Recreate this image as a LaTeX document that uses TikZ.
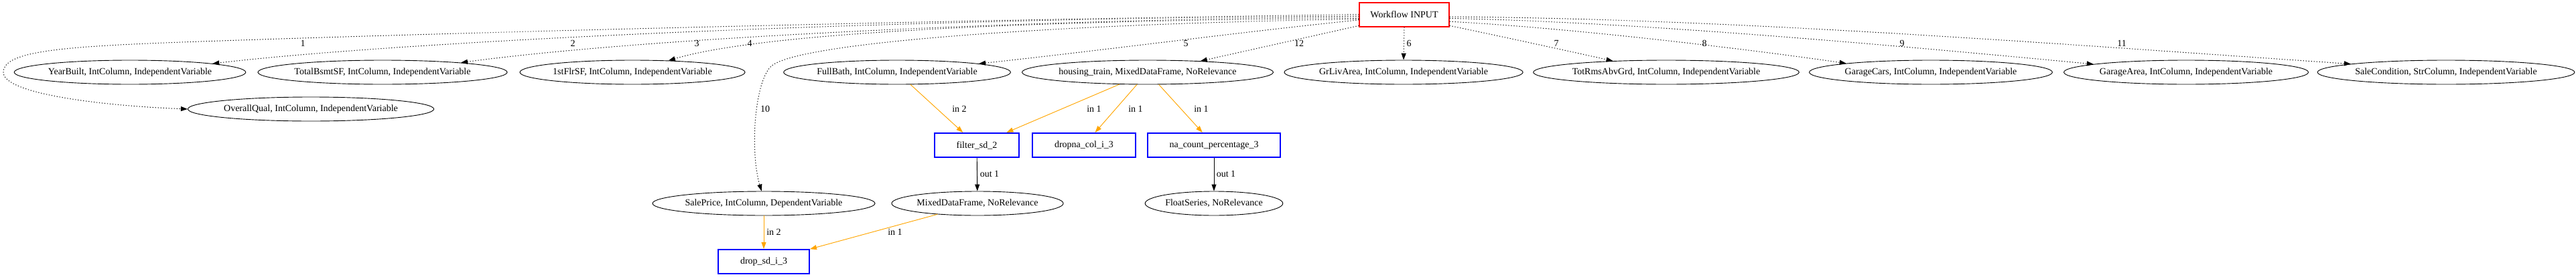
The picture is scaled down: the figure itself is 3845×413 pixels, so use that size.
\documentclass[tikz,border=0pt]{standalone}
\usepackage{fontspec}
\setmainfont{Liberation Serif}
\usetikzlibrary{shapes.geometric}
\usetikzlibrary{arrows.meta}
\definecolor{inorange}{RGB}{255,165,0}
\tikzset{x=1pt, y=-1pt,
>={Triangle[length=10pt,width=7pt]},
every node/.style={font=\fontsize{14}{16}\selectfont},
col/.style={
draw, ellipse,
line width=0.9pt,
inner xsep=0pt, inner ysep=0pt,
minimum height=36pt},
task/.style={
draw=blue,
line width=2pt,
inner xsep=33pt,
minimum height=36pt},
wf/.style={
draw=red,
line width=2pt,
inner xsep=16pt,
minimum height=36pt},
feed/.style={->, line width=1pt, dash pattern=on 1.2pt off 2.8pt},
inedge/.style={->, line width=0.9pt, draw=inorange, fill=inorange},
outedge/.style={->, line width=0.9pt},
lbl/.style={inner sep=1pt, text=black}}

\begin{document}
\begin{tikzpicture}
\useasboundingbox (0,0) rectangle (3845,413);
\node[wf] (input) at (2096,21.5) {Workflow INPUT};
\node[col] (yb) at (194,108) {YearBuilt, IntColumn, IndependentVariable};
\node[col] (tb) at (571,108) {TotalBsmtSF, IntColumn, IndependentVariable};
\node[col] (fs) at (944,108) {1stFlrSF, IntColumn, IndependentVariable};
\node[col] (fb) at (1339,108) {FullBath, IntColumn, IndependentVariable};
\node[col] (ht) at (1713,108) {housing\_train, MixedDataFrame, NoRelevance};
\node[col] (gl) at (2095,108) {GrLivArea, IntColumn, IndependentVariable};
\node[col] (tr) at (2487,108) {TotRmsAbvGrd, IntColumn, IndependentVariable};
\node[col] (gc) at (2882,108) {GarageCars, IntColumn, IndependentVariable};
\node[col] (ga) at (3263,108) {GarageArea, IntColumn, IndependentVariable};
\node[col] (sc) at (3651,108) {SaleCondition, StrColumn, IndependentVariable};
\node[col] (oq) at (464,163) {OverallQual, IntColumn, IndependentVariable};
\node[task] (filter) at (1458,217) {filter\_sd\_2};
\node[task] (dropna) at (1618,217) {dropna\_col\_i\_3};
\node[task] (nacount) at (1812,217) {na\_count\_percentage\_3};
\node[col] (sp) at (1140,304) {SalePrice, IntColumn, DependentVariable};
\node[col] (mdf) at (1459,304) {MixedDataFrame, NoRelevance};
\node[col] (fls) at (1812,304) {FloatSeries, NoRelevance};
\node[task] (drop) at (1140,391) {drop\_sd\_i\_3};
\draw[feed] (input.180) .. controls (1400,30) and (700,48) .. (300,62)
  .. controls (100,69) and (5,75) .. (5,108)
  .. controls (5,140) and (150,158) .. (oq.west) node[lbl] at (452,65) {1};
\draw[feed] (input.182) .. controls (1300,28) and (600,62) .. (yb.6) node[lbl] at (855,65) {2};
\draw[feed] (input.183.5) .. controls (1500,30) and (950,58) .. (tb.7) node[lbl] at (1040,65) {3};
\draw[feed] (input.185) .. controls (1600,30) and (1150,45) .. (fs.18) node[lbl] at (1119,65) {4};
\draw[feed] (input.187.5) .. controls (1850,48) and (1640,76) .. (fb.6) node[lbl] at (1770,65) {5};
\draw[feed] (input.194) -- (ht.12) node[lbl] at (1939,65) {12};
\draw[feed] (input.south) -- (gl.north) node[lbl] at (2103,65) {6};
\draw[feed] (input.346) .. controls (2220,50) and (2340,76) .. (tr.168) node[lbl] at (2323,65) {7};
\draw[feed] (input.351) .. controls (2350,42) and (2620,75) .. (gc.174) node[lbl] at (2544,65) {8};
\draw[feed] (input.355) .. controls (2450,33) and (2850,70) .. (ga.175) node[lbl] at (2839,65) {9};
\draw[feed] (input.186) .. controls (1600,35) and (1185,62) .. (1150,100)
  .. controls (1125,127) and (1120,230) .. (sp.100) node[lbl] at (1142,163) {10};
\draw[feed] (input.357) .. controls (2600,28) and (3100,68) .. (sc.175) node[lbl] at (3167,65) {11};
\draw[inedge] (fb) -- (filter) node[lbl] at (1432,163) {in 2};
\draw[inedge] (ht) -- (filter) node[lbl] at (1633,163) {in 1};
\draw[inedge] (ht) -- (dropna) node[lbl] at (1695,163) {in 1};
\draw[inedge] (ht) -- (nacount) node[lbl] at (1793,163) {in 1};
\draw[outedge] (filter) -- (mdf) node[lbl] at (1477,260) {out 1};
\draw[outedge] (nacount) -- (fls) node[lbl] at (1830,260) {out 1};
\draw[inedge] (sp) -- (drop) node[lbl] at (1155,347) {in 2};
\draw[inedge] (mdf) -- (drop) node[lbl] at (1336,347) {in 1};
\end{tikzpicture}
\end{document}
